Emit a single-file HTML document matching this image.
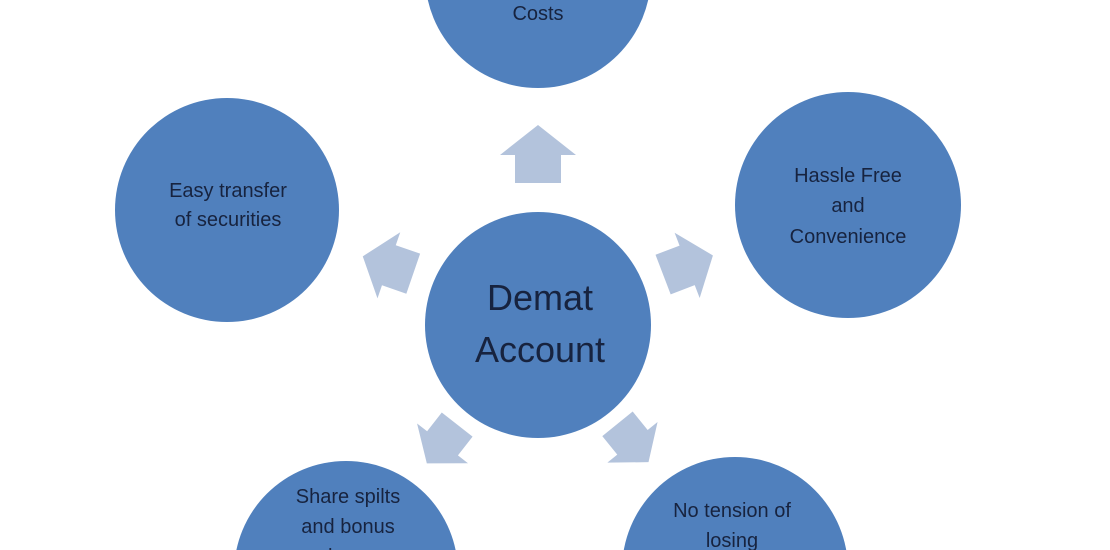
<!DOCTYPE html>
<html><head><meta charset="utf-8"><style>
html,body{margin:0;padding:0;background:#fff;width:1110px;height:550px;overflow:hidden}
svg{display:block;overflow:hidden}
text{font-family:"Liberation Sans",sans-serif;fill:#17233f;text-anchor:middle}
</style></head><body>
<svg width="1110" height="550" viewBox="0 0 1110 550">
<defs>
<polygon id="ar" points="0,-29 38,1 23,1 23,29 -23,29 -23,1 -38,1" fill="#b3c3dc"/>
</defs>
<g fill="#5080bd">
<circle cx="538" cy="-25" r="113"/>
<circle cx="227" cy="210" r="112"/>
<circle cx="848" cy="205" r="113"/>
<circle cx="538" cy="325" r="113"/>
<circle cx="346" cy="573" r="112"/>
<circle cx="735" cy="570" r="113"/>
</g>
<use href="#ar" transform="translate(538,154)"/>
<use href="#ar" transform="translate(388,265) rotate(-71) scale(0.92)"/>
<use href="#ar" transform="translate(688,265) rotate(69) scale(0.92)"/>
<use href="#ar" transform="translate(442,444) rotate(-142) scale(0.85)"/>
<use href="#ar" transform="translate(633,443) rotate(141) scale(0.85)"/>
<text x="538" y="20" font-size="20">Costs</text>
<text x="228" y="197" font-size="20">Easy transfer</text>
<text x="228" y="226" font-size="20">of securities</text>
<text x="848" y="182" font-size="20">Hassle Free</text>
<text x="848" y="212" font-size="20">and</text>
<text x="848" y="243" font-size="20">Convenience</text>
<text x="540" y="310" font-size="36">Demat</text>
<text x="540" y="362" font-size="36">Account</text>
<text x="348" y="503" font-size="20">Share spilts</text>
<text x="348" y="533" font-size="20">and bonus</text>
<text x="348" y="563" font-size="20">shares</text>
<text x="732" y="517" font-size="20">No tension of</text>
<text x="732" y="547" font-size="20">losing</text>
</svg>
</body></html>
